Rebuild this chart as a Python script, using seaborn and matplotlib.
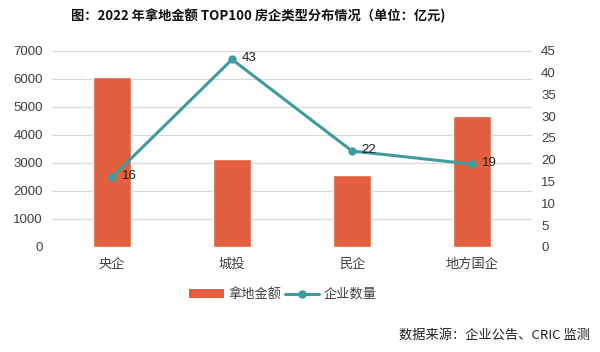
import matplotlib
matplotlib.use("Agg")
import matplotlib.pyplot as plt
import seaborn as sns
import pandas as pd
from matplotlib.patches import Patch
from matplotlib.lines import Line2D

categories = ["央企", "城投", "民企", "地方国企"]
amounts = [6050, 3140, 2580, 4660]
counts = [16, 43, 22, 19]
left_ticks = [0, 1000, 2000, 3000, 4000, 5000, 6000, 7000]
right_ticks = [0, 5, 10, 15, 20, 25, 30, 35, 40, 45]

sns.set_theme(style="white")
plt.rcParams['font.family'] = ['Noto Sans CJK SC', 'DejaVu Sans']

bar_color = "#E2603F"
line_color = "#3E9CA0"
tick_color = "#404040"

df = pd.DataFrame({"cat": categories, "amount": amounts, "count": counts})

fig = plt.figure(figsize=(6, 3.52), dpi=100)
ax = fig.add_axes([0.0867, 0.2983, 0.80, 0.5577])
sns.barplot(data=df, x="cat", y="amount", color=bar_color, width=0.32,
            saturation=1, ax=ax, zorder=2)
ax.set_ylim(0, 7000)
ax.set_yticks(left_ticks)
ax.set_xlim(-0.5, 3.5)
ax.grid(axis="y", color="#d9d9d9", linewidth=0.9, zorder=0)
ax.set_axisbelow(True)
for s in ax.spines.values():
    s.set_visible(False)
ax.set_xlabel("")
ax.set_ylabel("")
ax.tick_params(axis="y", length=0, labelsize=9.5, labelcolor=tick_color, pad=6.5)
ax.tick_params(axis="x", length=0, labelsize=9.5, labelcolor=tick_color, pad=8)
for lab in ax.get_yticklabels():
    lab.set_family(["Liberation Sans", "DejaVu Sans"])

ax2 = ax.twinx()
sns.lineplot(data=df, x="cat", y="count", color=line_color, marker="o",
             markersize=6, markeredgewidth=0, linewidth=2.2, sort=False, ax=ax2)
ax2.set_ylim(0, 45)
ax2.set_yticks(right_ticks)
ax2.set_xlim(-0.5, 3.5)
for s in ax2.spines.values():
    s.set_visible(False)
ax2.set_ylabel("")
ax2.set_xlabel("")
ax2.grid(False)
ax2.tick_params(axis="y", length=0, labelsize=9.5, labelcolor=tick_color, pad=6.5)
for lab in ax2.get_yticklabels():
    lab.set_family(["Liberation Sans", "DejaVu Sans"])

for i, v in enumerate(counts):
    ax2.annotate(str(v), (i, v), xytext=(7, 1), textcoords="offset points",
                 ha="left", va="center", fontsize=9.5, color="#222222",
                 family=["Liberation Sans", "DejaVu Sans"])

fig.text(0.43, 0.955, "图：2022 年拿地金额 TOP100 房企类型分布情况（单位：亿元)",
         ha="center", va="center", fontsize=9.5, fontweight="bold", color="#111111")

handles = [Patch(facecolor=bar_color, edgecolor="none"),
           Line2D([0], [0], color=line_color, linewidth=2.2, marker="o",
                  markersize=6, markeredgewidth=0)]
fig.legend(handles, ["拿地金额", "企业数量"], loc="center", bbox_to_anchor=(0.472, 0.163),
           ncol=2, frameon=False, fontsize=9.5, handlelength=2.6, columnspacing=0.2,
           handletextpad=0.4, labelcolor=tick_color)

fig.text(0.983, 0.048, "数据来源：企业公告、CRIC 监测", ha="right", va="center",
         fontsize=9.5, color="#222222")

fig.savefig("out.png", dpi=100)
